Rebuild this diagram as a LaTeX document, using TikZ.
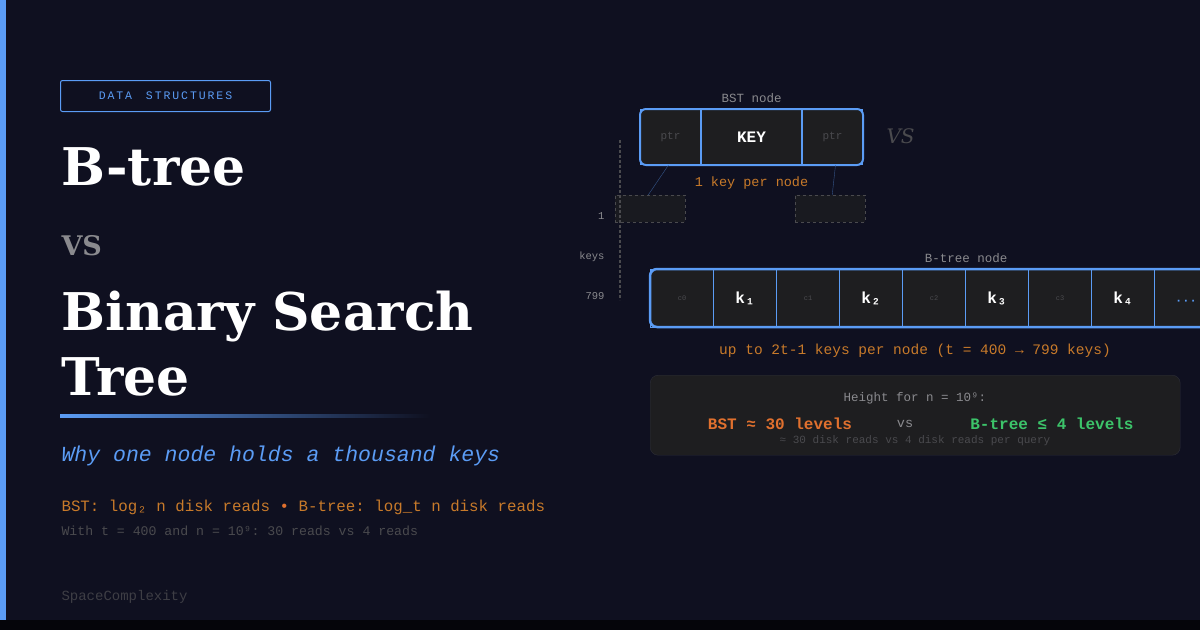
\documentclass[tikz,border=0pt]{standalone}
\usepackage{fontspec}
\setmainfont{DejaVu Serif}
\setmonofont{Liberation Mono}
\usetikzlibrary{positioning}
\definecolor{bgc}{HTML}{0F1020}
\definecolor{accent}{HTML}{5B9CF5}
\definecolor{cellc}{HTML}{1E1E20}
\definecolor{dimc}{HTML}{4A4A4E}
\definecolor{grayc}{HTML}{8A8A8E}
\definecolor{orangec}{HTML}{C87A2A}
\definecolor{bstc}{HTML}{E0702E}
\definecolor{greenc}{HTML}{3CC46A}
\tikzset{
  cell/.style={draw=accent,line width=1pt,fill=cellc,minimum height=55pt,inner sep=0pt},
  keytext/.style={font=\ttfamily\bfseries\fontsize{16}{16}\selectfont,text=white},
  ptrtext/.style={font=\ttfamily\fontsize{11}{11}\selectfont,text=dimc},
  ctext/.style={font=\ttfamily\fontsize{7}{7}\selectfont,text=dimc},
  capt/.style={font=\ttfamily\fontsize{12.5}{12.5}\selectfont,text=grayc},
  ghost/.style={draw=dimc,dashed,fill=cellc!70!bgc},
  title/.style={anchor=base west,font=\bfseries\fontsize{52}{52}\selectfont,text=white}
}
\begin{document}
\begin{tikzpicture}[x=1pt,y=-1pt]
\useasboundingbox (0,0) rectangle (1200,630);
\fill[bgc] (0,0) rectangle (1200,630);
\fill[black!70!bgc] (0,620) rectangle (1200,630);
\fill[accent] (0,0) rectangle (6,620);
% left column
\node[draw=accent,line width=1pt,rounded corners=2pt,minimum width=210pt,minimum height=31pt,anchor=north west,
  font=\ttfamily\fontsize{11.5}{11.5}\selectfont,text=accent] (tag) at (60,80) {D\,A\,T\,A\ \ S\,T\,R\,U\,C\,T\,U\,R\,E\,S};
\node[title] (t1) at (58,185) {B-tree};
\node[anchor=base west,font=\bfseries\fontsize{27}{27}\selectfont,text=grayc] (tvs) at (58,255) {VS};
\node[title] (t2) at (58,330) {Binary Search};
\node[title] (t3) at (58,395) {Tree};
\shade[left color=accent,right color=bgc] (60,414) rectangle (430,417);
\node[anchor=base west,font=\ttfamily\itshape\fontsize{21.5}{21.5}\selectfont,text=accent] (sub) at (58,461) {Why one node holds a thousand keys};
\node[anchor=base west,font=\ttfamily\fontsize{15.8}{15.8}\selectfont,text=orangec] (f1) at (58,511) {BST: log₂ n disk reads {\color{bstc}•} B-tree: log\_t n disk reads};
\node[anchor=base west,font=\ttfamily\fontsize{13.2}{13.2}\selectfont,text=dimc] (f2) at (58,535) {With t = 400 and n = 10⁹: 30 reads vs 4 reads};
\node[anchor=base west,font=\ttfamily\fontsize{14}{14}\selectfont,text=dimc!80!bgc] (brand) at (58,600) {SpaceComplexity};
% BST node
\node[cell,minimum width=60pt,anchor=north west] (p1) at (640,109) {};
\node[cell,minimum width=100pt,anchor=west] (bk) at (p1.east) {};
\node[cell,minimum width=60pt,anchor=west] (p2) at (bk.east) {};
\draw[accent,line width=2pt,rounded corners=6pt] (p1.north west) rectangle (p2.south east);
\node[ptrtext] at (p1) {ptr};
\node[keytext] at (bk) {KEY};
\node[ptrtext] at (p2) {ptr};
\node[capt,above=3pt of bk] (bstlab) {BST node};
\node[anchor=west,font=\itshape\fontsize{20}{20}\selectfont,text=dimc] (vs2) at (883,136) {VS};
\node[font=\ttfamily\fontsize{13.5}{13.5}\selectfont,text=orangec,below=8pt of bk] (onekey) {1 key per node};
\node[ghost,minimum width=70pt,minimum height=27pt,anchor=north west] (g1) at (615,195) {};
\node[ghost,minimum width=70pt,minimum height=27pt,anchor=north west] (g2) at (795,195) {};
\draw[accent!50!bgc] ([xshift=-2pt]p1.south) -- ([xshift=-2pt]g1.north);
\draw[accent!50!bgc] ([xshift=3pt]p2.south) -- ([xshift=2pt]g2.north);
\coordinate (axtop) at (620,140);
\coordinate (axbot) at (620,300);
\draw[dimc,densely dashed,line width=1.5pt] (axtop) -- (axbot);
\node[capt,anchor=east,font=\ttfamily\fontsize{10.5}{10.5}\selectfont] at (608,216) {1};
\node[capt,anchor=east,font=\ttfamily\fontsize{10.5}{10.5}\selectfont] at (608,257) {keys};
\node[capt,anchor=east,font=\ttfamily\fontsize{10.5}{10.5}\selectfont] at (608,296) {799};
% B-tree node
\foreach \i/\t/\s in {1/c0/ctext,2/k₁/keytext,3/c1/ctext,4/k₂/keytext,5/c2/ctext,6/k₃/keytext,7/c3/ctext,8/k₄/keytext,9/{}/ctext,10/{}/ctext}{
  \pgfmathsetmacro\cx{650+(\i-1)*63}
  \node[cell,minimum width=63pt,minimum height=58pt,anchor=north west,\s] (b\i) at (\cx,269) {\t};
}
\node[text=accent,font=\ttfamily\bfseries\fontsize{12}{12}\selectfont] at ([yshift=-4pt]b9) {···};
\draw[accent,line width=2.5pt,rounded corners=7pt] (b1.north west) rectangle (1230,327);
\node[capt,above=3pt of b5.north east] (btlab) {B-tree node};
\node[font=\ttfamily\fontsize{14.5}{14.5}\selectfont,text=orangec] (upto) at (915,351) {up to 2t-1 keys per node (t = 400 → 799 keys)};
% summary
\node[draw=dimc!50!bgc,fill=cellc,rounded corners=8pt,minimum width=530pt,minimum height=80pt,anchor=north west] (sum) at (650,375) {};
\node[capt] (hgt) at (915,398) {Height for n = 10⁹:};
\node[font=\ttfamily\bfseries\fontsize{16}{16}\selectfont,text=bstc] (sbst) at (780,424) {BST ≈ 30 levels};
\node[capt,font=\ttfamily\fontsize{13.5}{13.5}\selectfont] (svs) at (905,424) {vs};
\node[font=\ttfamily\bfseries\fontsize{16}{16}\selectfont,text=greenc] (sbt) at (1052,424) {B-tree ≤ 4 levels};
\node[font=\ttfamily\fontsize{11}{11}\selectfont,text=dimc] (note) at (915,441) {≈ 30 disk reads vs 4 disk reads per query};
\end{tikzpicture}
\end{document}
